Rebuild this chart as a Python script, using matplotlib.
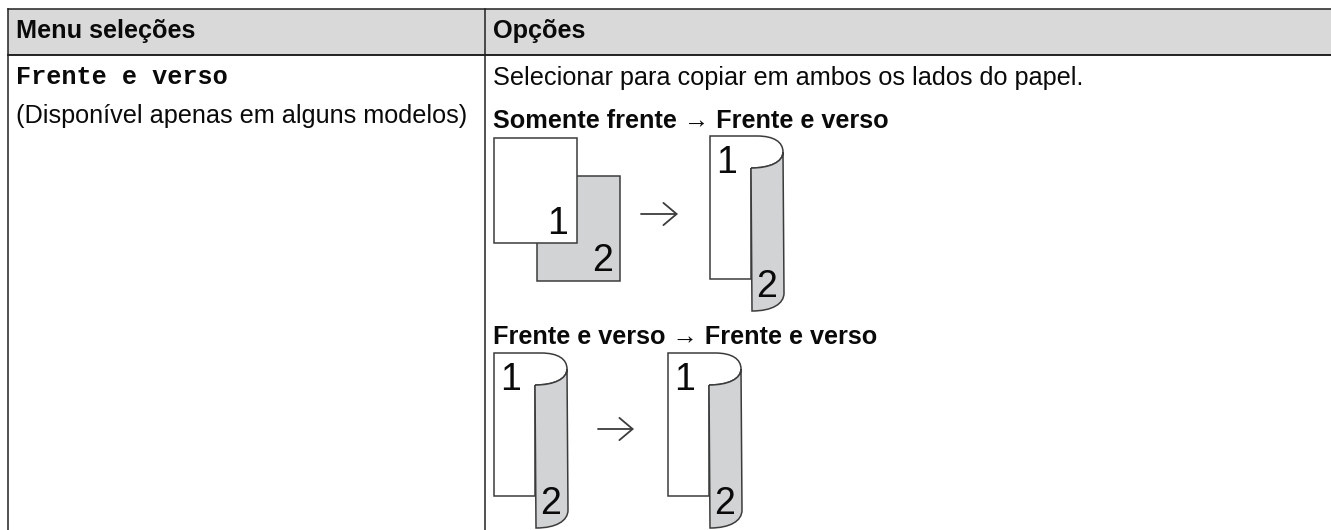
import matplotlib

matplotlib.use("Agg")
import matplotlib.pyplot as plt
from matplotlib.patches import PathPatch, Rectangle
from matplotlib.path import Path

W, H = 1331, 530

header_labels = ["Menu seleções", "Opções"]
menu_name = "Frente e verso"
menu_note = "(Disponível apenas em alguns modelos)"
option_text = "Selecionar para copiar em ambos os lados do papel."
case_titles = ["Somente frente → Frente e verso", "Frente e verso → Frente e verso"]
page_numbers = ["1", "2"]

LINE = "#3c3c3c"
GRAY = "#d1d3d4"
HEADER = "#d9d9d9"

fig = plt.figure(figsize=(W / 100, H / 100), dpi=100)
ax = fig.add_axes([0, 0, 1, 1])
ax.set_xlim(0, W)
ax.set_ylim(H, 0)
ax.axis("off")


def txt(x, y, s, size=18.2, weight="normal", family="Liberation Sans", ha="left"):
    ax.text(x, y, s, fontsize=size, fontweight=weight, family=family, ha=ha, va="baseline", color="#0a0a0a")


def single_sheets(x, y):
    ax.add_patch(Rectangle((x + 43, y + 38), 83, 105, fc=GRAY, ec=LINE, lw=1.1))
    ax.add_patch(Rectangle((x, y), 83, 105, fc="white", ec=LINE, lw=1.1))
    txt(x + 64, y + 96, page_numbers[0], size=27, ha="center")
    txt(x + 109, y + 133, page_numbers[1], size=27, ha="center")


def folded_sheet(x, y):
    # white front, curling over the top right corner
    C4, L = Path.CURVE4, Path.LINETO
    front = Path(
        [(x + 41, y + 32), (x + 41, y + 143), (x, y + 143), (x, y), (x + 47, y),
         (x + 64, y), (x + 73, y + 6), (x + 73, y + 16),
         (x + 73, y + 26), (x + 60, y + 32), (x + 41, y + 32)],
        [Path.MOVETO, L, L, L, L, C4, C4, C4, C4, C4, C4],
    )
    ax.add_patch(PathPatch(front, fc="white", ec=LINE, lw=1.1))
    back = Path(
        [(x + 41, y + 32), (x + 60, y + 32), (x + 73, y + 26), (x + 73, y + 16),
         (x + 74, y + 157), (x + 74, y + 168), (x + 62, y + 175), (x + 42, y + 175), (x + 41, y + 32)],
        [Path.MOVETO, C4, C4, C4, L, C4, C4, C4, L],
    )
    ax.add_patch(PathPatch(back, fc=GRAY, ec=LINE, lw=1.1))
    txt(x + 17, y + 37, page_numbers[0], size=27, ha="center")
    txt(x + 57, y + 161, page_numbers[1], size=27, ha="center")


def arrow(x0, x1, y):
    ax.annotate("", xy=(x1, y), xytext=(x0, y),
                arrowprops=dict(arrowstyle="->,head_length=0.95,head_width=0.8", color=LINE, lw=1.3,
                                shrinkA=0, shrinkB=0))


# table, no right border: the header runs off the page
ax.add_patch(Rectangle((7.5, 8.5), W, 46.5, fc=HEADER, ec="none"))
ax.plot([7.5, W], [8.5, 8.5], color="#222222", lw=1.1)
ax.plot([7.5, W], [55, 55], color="#111111", lw=1.3)
for x in [7.5, 484.5]:
    ax.plot([x, x], [8.5, H], color="#222222", lw=1.1)

txt(16, 38, header_labels[0], weight="bold")
txt(493, 38, header_labels[1], weight="bold")
txt(16, 84.5, menu_name, weight="bold", family="Liberation Mono")
txt(16, 123, menu_note)
txt(493, 85.5, option_text)
txt(493, 128, case_titles[0], weight="bold")
txt(493, 344, case_titles[1], weight="bold")

single_sheets(494, 138)
arrow(641, 678, 214)
folded_sheet(710, 136)
folded_sheet(494, 353)
arrow(598, 634, 429)
folded_sheet(668, 353)

fig.savefig("out.png", dpi=100)
